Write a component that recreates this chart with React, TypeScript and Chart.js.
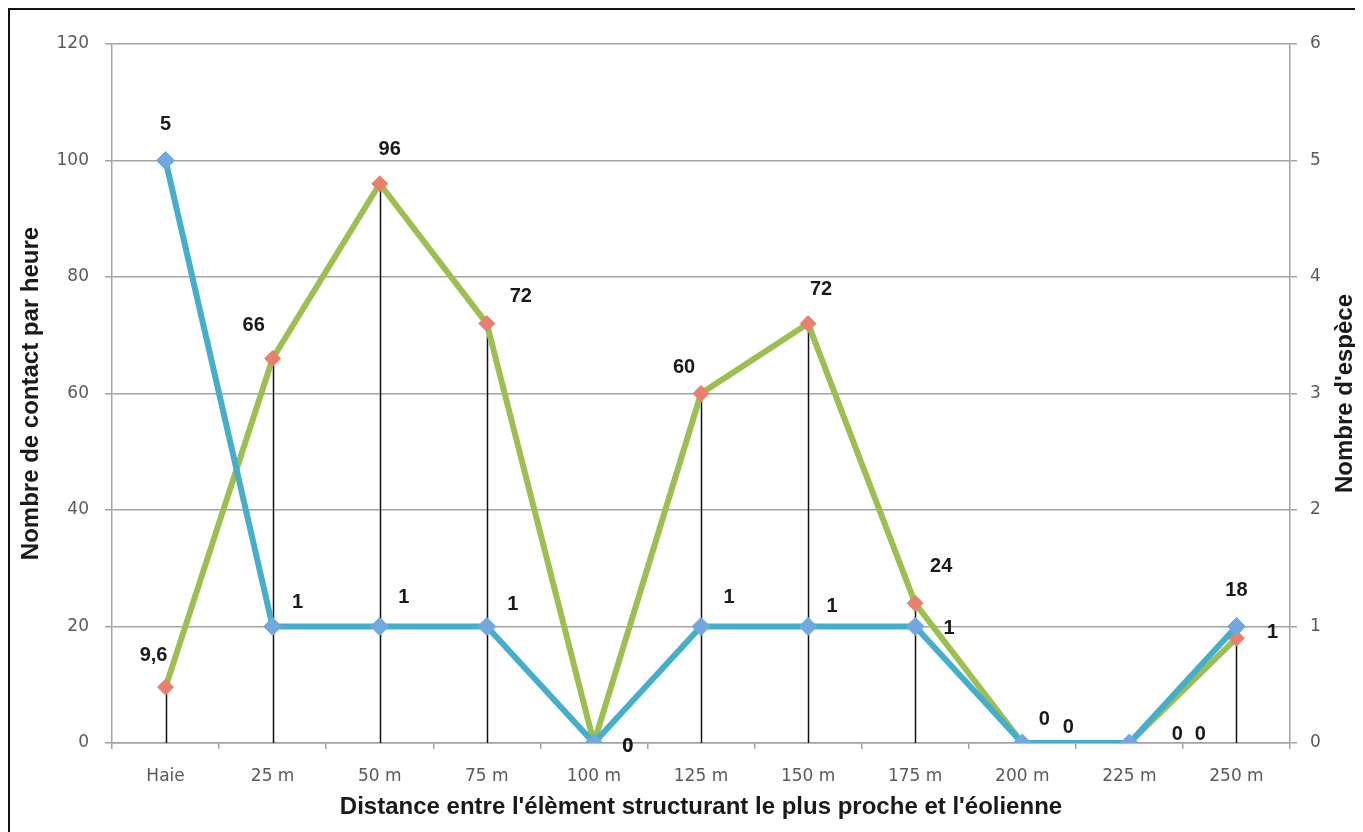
import React, { useEffect, useRef } from "react";
import { Chart, registerables } from "chart.js";

Chart.register(...registerables);

const categories = ["Haie", "25 m", "50 m", "75 m", "100 m", "125 m", "150 m", "175 m", "200 m", "225 m", "250 m"];
const contactsPerHour = [9.6, 66, 96, 72, 0, 60, 72, 24, 0, 0, 18];
const speciesCount = [5, 1, 1, 1, 0, 1, 1, 1, 0, 0, 1];
const leftTicks = { min: 0, max: 120, step: 20 };
const rightTicks = { min: 0, max: 6, step: 1 };

const xTitle = "Distance entre l'élèment structurant le plus proche et l'éolienne";
const leftTitle = "Nombre de contact par heure";
const rightTitle = "Nombre d'espèce";

// label placement (style only)
const contactLabelOffsets = [[-12, -32], [-19, -33], [10, -34], [34, -27], [34, 3], [-17, -26], [13, -34], [26, -37], [46, -16], [71, -9], [0, -48]];
const speciesLabelOffsets = [[0, -36], [25, -24], [24, -29], [26, -22], [34, 3], [28, -29], [24, -20], [34, 2], [22, -24], [48, -9], [36, 6]];

const GRID = "#a3a3a3";
const TICK_COLOR = "#5a5a5a";
const TICK_FONT = { family: "'DejaVu Sans', sans-serif", size: 17 };
const TITLE_SIZE = 24;
const TITLE_FONT = { family: "'Liberation Sans', Arial, sans-serif", size: TITLE_SIZE, weight: "bold" as const };
const LABEL_FONT = "bold 20px 'Liberation Sans', Arial, sans-serif";

const fmt = (v: number) => String(v).replace(".", ",");

const dropLinesPlugin = {
  id: "dropLines",
  beforeDatasetsDraw(chart: any) {
    const { ctx, chartArea } = chart;
    const meta = chart.getDatasetMeta(1);
    ctx.save();
    ctx.strokeStyle = "#111";
    ctx.lineWidth = 1.5;
    meta.data.forEach((pt: any) => {
      ctx.beginPath();
      ctx.moveTo(Math.round(pt.x) + 0.5, pt.y);
      ctx.lineTo(Math.round(pt.x) + 0.5, chartArea.bottom);
      ctx.stroke();
    });
    ctx.restore();
  },
};

const labelsPlugin = {
  id: "pointLabels",
  afterDatasetsDraw(chart: any) {
    const { ctx } = chart;
    ctx.save();
    ctx.font = LABEL_FONT;
    ctx.fillStyle = "#1a1a1a";
    ctx.textAlign = "center";
    ctx.textBaseline = "middle";
    const sets = [
      { idx: 1, values: contactsPerHour, offs: contactLabelOffsets },
      { idx: 0, values: speciesCount, offs: speciesLabelOffsets },
    ];
    sets.forEach((s) => {
      const meta = chart.getDatasetMeta(s.idx);
      meta.data.forEach((pt: any, i: number) => {
        const [dx, dy] = s.offs[i];
        ctx.fillText(fmt(s.values[i]), pt.x + dx, pt.y + dy);
      });
    });
    ctx.restore();
  },
};

const rightTitlePlugin = {
  id: "rightTitle",
  afterDraw(chart: any) {
    const { ctx, chartArea } = chart;
    ctx.save();
    ctx.font = `bold ${TITLE_SIZE}px 'Liberation Sans', Arial, sans-serif`;
    ctx.fillStyle = "#1a1a1a";
    ctx.textAlign = "center";
    ctx.textBaseline = "middle";
    ctx.translate(1335, (chartArea.top + chartArea.bottom) / 2);
    ctx.rotate(-Math.PI / 2);
    ctx.fillText(rightTitle, 0, 0);
    ctx.restore();
  },
};

export default function App() {
  const ref = useRef<HTMLCanvasElement>(null);
  useEffect(() => {
    if (!ref.current) return;
    const chart = new Chart(ref.current, {
      type: "line",
      data: {
        labels: categories,
        datasets: [
          {
            label: rightTitle,
            data: speciesCount,
            yAxisID: "y1",
            borderColor: "#45AFCB",
            borderWidth: 6,
            pointStyle: "rectRot",
            pointRadius: 9,
            pointBackgroundColor: "#72A8E0",
            pointBorderColor: "#72A8E0",
            pointBorderWidth: 1,
            tension: 0,
            order: 0,
          },
          {
            label: leftTitle,
            data: contactsPerHour,
            yAxisID: "y",
            borderColor: "#9DBF52",
            borderWidth: 6,
            pointStyle: "rectRot",
            pointRadius: 8,
            pointBackgroundColor: "#E8806E",
            pointBorderColor: "#E8806E",
            pointBorderWidth: 1,
            tension: 0,
            order: 1,
          },
        ],
      },
      options: {
        responsive: false,
        animation: false,
        layout: { padding: { top: 34, left: 0, right: 0, bottom: 0 } },
        plugins: { legend: { display: false }, tooltip: { enabled: false } },
        scales: {
          x: {
            offset: true,
            grid: { offset: true, drawOnChartArea: false, drawTicks: true, tickLength: 6, color: GRID, lineWidth: 1.5 },
            border: { color: GRID, width: 1.5 },
            ticks: { color: TICK_COLOR, font: TICK_FONT, padding: 17, maxRotation: 0, autoSkip: false },
            title: { display: true, text: xTitle, color: "#1a1a1a", font: TITLE_FONT, padding: { top: 0, bottom: 10 } },
            afterFit: (s: any) => { s.height = 89; },
          },
          y: {
            position: "left",
            min: leftTicks.min,
            max: leftTicks.max,
            ticks: { stepSize: leftTicks.step, color: TICK_COLOR, font: TICK_FONT, padding: 16 },
            grid: { color: GRID, lineWidth: 1.5, tickLength: 7 },
            border: { color: GRID, width: 1.5 },
            title: { display: true, text: leftTitle, color: "#1a1a1a", font: TITLE_FONT, padding: { top: 7, bottom: 0 } },
            afterFit: (s: any) => { s.width = 102; },
          },
          y1: {
            position: "right",
            min: rightTicks.min,
            max: rightTicks.max,
            ticks: { stepSize: rightTicks.step, color: TICK_COLOR, font: TICK_FONT, padding: 13 },
            grid: { drawOnChartArea: false, color: GRID, lineWidth: 1.5, tickLength: 7 },
            border: { color: GRID, width: 1.5 },
            afterFit: (s: any) => { s.width = 73; },
          },
        },
      },
      plugins: [dropLinesPlugin, labelsPlugin, rightTitlePlugin],
    });
    return () => chart.destroy();
  }, []);

  return (
    <div
      style={{
        width: 1353,
        height: 822,
        borderLeft: "2px solid #111",
        borderTop: "2px solid #111",
        background: "#fff",
        overflow: "hidden",
      }}
    >
      <canvas ref={ref} width={1353} height={822} style={{ display: "block" }} />
    </div>
  );
}
